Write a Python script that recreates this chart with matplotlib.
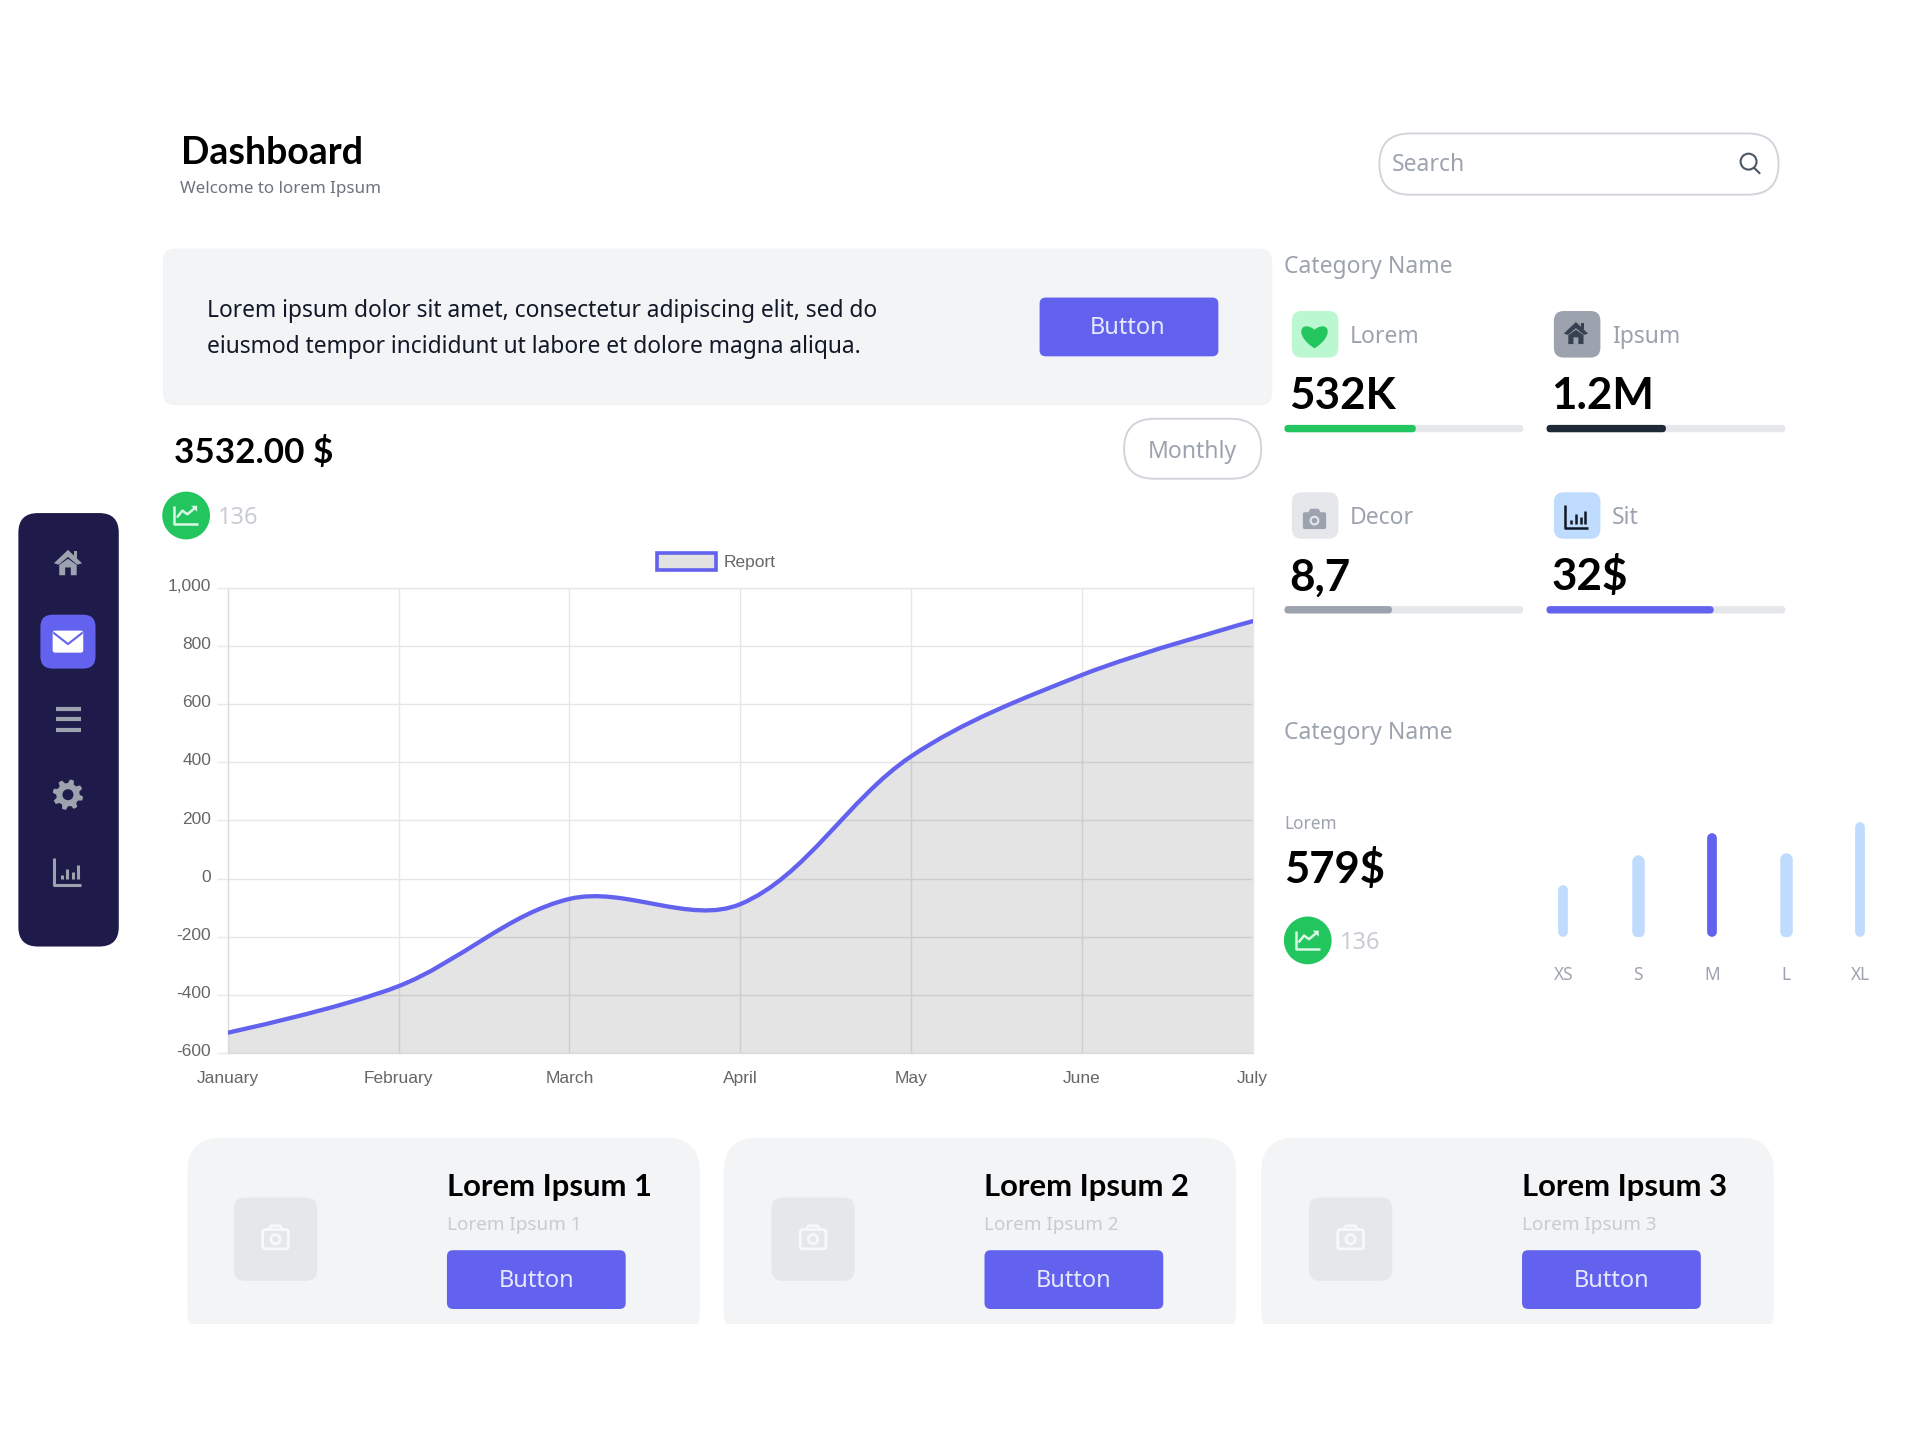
import numpy as np
import matplotlib
matplotlib.use('Agg')
import matplotlib.pyplot as plt
from matplotlib.patches import Circle, FancyBboxPatch, Patch, PathPatch, Polygon, Rectangle
from matplotlib.path import Path
from matplotlib.transforms import ScaledTranslation

plt.rcParams['font.family'] = ['Noto Sans', 'DejaVu Sans']
BOLD_FONT = ['Lato', 'DejaVu Sans']

# line chart
MONTHS = ['January', 'February', 'March', 'April', 'May', 'June', 'July']
REPORT = [-530, -370, -70, -88, 420, 700, 885]
Y_TICKS = [-600, -400, -200, 0, 200, 400, 600, 800, 1000]

# stat blocks
STAT_LABELS = ['Lorem', 'Ipsum', 'Decor', 'Sit']
STAT_VALUES = ['532K', '1.2M', '8,7', '32$']
STAT_PROGRESS = [55, 50, 45, 70]

# small bars
SIZES = ['XS', 'S', 'M', 'L', 'XL']
SIZE_VALUES = [42, 66, 84, 68, 93]

CARD_TITLES = ['Lorem Ipsum 1', 'Lorem Ipsum 2', 'Lorem Ipsum 3']

INDIGO = '#6262ee'
GREEN = '#22c55e'
NAVY = '#1e1b4b'
LIGHT = '#f3f4f6'
GRAY = '#9ca3af'
W, H = 1568.0, 1176.0  # layout units of the page

fig = plt.figure(figsize=(19.2, 14.4), dpi=100, facecolor='white')
page = fig.add_axes([0, 0, 1, 1])
page.set_xlim(0, W)
page.set_ylim(H, 0)
page.axis('off')


def rect_of(x0, y0, x1, y1):
    return [x0 / W, 1 - y1 / H, (x1 - x0) / W, (y1 - y0) / H]


def box(x0, y0, x1, y1, r, fc, ec='none', lw=0, z=1):
    p = FancyBboxPatch((x0, y0), x1 - x0, y1 - y0, boxstyle='round,pad=0,rounding_size=%g' % r,
                       fc=fc, ec=ec, lw=lw, zorder=z)
    page.add_patch(p)
    return p


def label(x, y, s, size, color, weight='normal', ha='left', va='center'):
    if va == 'center':
        y += 2  # center includes descender room, nudge to the reference
    family = BOLD_FONT if weight == 'bold' else None
    page.text(x, y, s, fontsize=size, color=color, fontweight=weight, ha=ha, va=va, zorder=5, family=family)


def line(xs, ys, color, lw, z=4, cap='round'):
    page.plot(xs, ys, color=color, lw=lw, solid_capstyle=cap, solid_joinstyle='round', zorder=z)


def icon_home(cx, cy, s, color, bg):
    page.add_patch(Polygon([(cx - s, cy), (cx, cy - s * 0.95), (cx + s, cy), (cx + s * 0.65, cy + s * 0.1),
                            (cx, cy - s * 0.45), (cx - s * 0.65, cy + s * 0.1)], fc=color, zorder=4))
    page.add_patch(Polygon([(cx - s * 0.62, cy + s * 0.12), (cx, cy - s * 0.32), (cx + s * 0.62, cy + s * 0.12),
                            (cx + s * 0.62, cy + s * 0.85), (cx + s * 0.2, cy + s * 0.85), (cx + s * 0.2, cy + s * 0.3),
                            (cx - s * 0.2, cy + s * 0.3), (cx - s * 0.2, cy + s * 0.85),
                            (cx - s * 0.62, cy + s * 0.85)], fc=color, zorder=4))
    page.add_patch(Rectangle((cx + s * 0.42, cy - s * 0.85), s * 0.22, s * 0.5, fc=color, zorder=4))


def icon_gear(cx, cy, r, color, bg):
    ang = np.linspace(0, 2 * np.pi, 48, endpoint=False) + np.pi / 24
    rad = np.where(np.arange(48) % 6 < 3, r, r * 0.76)
    page.add_patch(Polygon(np.c_[cx + rad * np.cos(ang), cy + rad * np.sin(ang)], fc=color, zorder=4))
    page.add_patch(Circle((cx, cy), r * 0.36, fc=bg, zorder=4.5))


def icon_bars(cx, cy, s, color, lw=2.2):
    line([cx - s, cx - s, cx + s], [cy - s, cy + s, cy + s], color, lw, cap='butt')
    for dx, h in zip([-0.45, -0.05, 0.35, 0.75], [0.35, 0.8, 0.55, 1.05]):
        line([cx + dx * s] * 2, [cy + s * 0.6, cy + s * 0.6 - h * s], color, lw, cap='butt')


def icon_camera(cx, cy, s, color, bg, outline=False):
    if outline:
        box(cx - s, cy - s * 0.65, cx + s, cy + s * 0.85, 2, 'none', ec=color, lw=2, z=4)
        line([cx - s * 0.55, cx - s * 0.35, cx + s * 0.35, cx + s * 0.55],
             [cy - s * 0.65, cy - s * 0.95, cy - s * 0.95, cy - s * 0.65], color, 2)
        page.add_patch(Circle((cx, cy + s * 0.1), s * 0.36, fc='none', ec=color, lw=2, zorder=4))
    else:
        box(cx - s, cy - s * 0.6, cx + s, cy + s * 0.85, 1.5, color, z=4)
        page.add_patch(Polygon([(cx - s * 0.55, cy - s * 0.55), (cx - s * 0.35, cy - s * 0.9),
                                (cx + s * 0.35, cy - s * 0.9), (cx + s * 0.55, cy - s * 0.55)], fc=color, zorder=4))
        page.add_patch(Circle((cx, cy + s * 0.12), s * 0.42, fc=bg, zorder=4.5))
        page.add_patch(Circle((cx, cy + s * 0.12), s * 0.24, fc=color, zorder=4.6))


def icon_heart(cx, cy, s, color):
    verts = [(cx, cy + s), (cx - s * 1.7, cy - s * 0.1), (cx - s * 1.0, cy - s * 1.25), (cx, cy - s * 0.45),
             (cx + s * 1.0, cy - s * 1.25), (cx + s * 1.7, cy - s * 0.1), (cx, cy + s)]
    codes = [Path.MOVETO] + [Path.CURVE4] * 6
    page.add_patch(PathPatch(Path(verts, codes), fc=color, ec='none', zorder=4))


def trend_badge(cx, cy, value, tx):
    page.add_patch(Circle((cx, cy), 19.5, fc=GREEN, zorder=3))
    line([cx - 10, cx - 10, cx + 10], [cy - 8, cy + 7, cy + 7], '#d9f7e4', 1.8, cap='butt')
    line([cx - 7, cx - 3, cx + 1, cx + 7], [cy + 1, cy - 4, cy - 1, cy - 6], '#d9f7e4', 1.8)
    page.add_patch(Polygon([(cx + 9, cy - 8), (cx + 9, cy - 3), (cx + 4, cy - 8)], fc='#d9f7e4', zorder=4))
    label(tx, cy, value, 17, '#c9ccd3')


# sidebar
box(15, 419, 97, 773, 16, NAVY)
icon_home(55.5, 460, 11.5, GRAY, NAVY)
box(33, 502, 78, 546, 10, INDIGO)
box(43, 515, 68, 533, 2, 'white', z=4)
line([44, 55.5, 67], [517, 526, 517], INDIGO, 1.5)
for y in [579, 587.5, 596]:
    line([46, 66], [y, y], GRAY, 3, cap='butt')
icon_gear(55.5, 649, 12.5, GRAY, NAVY)
icon_bars(55.5, 711.5, 11, GRAY, lw=2.2)

# header
label(147.5, 134, 'Dashboard', 27, 'black', 'bold', va='baseline')
label(147, 158, 'Welcome to lorem Ipsum', 12.2, '#6b7280', va='baseline')
box(1126.5, 109, 1452.5, 159, 25, 'white', ec='#d1d5db', lw=1.4)
label(1137, 132.5, 'Search', 16.5, GRAY)
page.add_patch(Circle((1428, 132), 6.5, fc='none', ec='#4b5563', lw=1.5, zorder=4))
line([1432.5, 1437], [137, 141.5], '#4b5563', 1.5)

# banner
box(133, 203, 1039, 331, 10, LIGHT)
label(169, 252, 'Lorem ipsum dolor sit amet, consectetur adipiscing elit, sed do', 16.4, '#111827')
label(169, 281, 'eiusmod tempor incididunt ut labore et dolore magna aliqua.', 16.4, '#111827')
box(849, 243, 995, 291, 5, INDIGO)
label(921, 266, 'Button', 17, '#e6e8ff', ha='center')

# chart header
label(142, 378, '3532.00 $', 25.2, 'black', 'bold', va='baseline')
box(918, 342, 1030, 391, 24.5, 'white', ec='#d1d5db', lw=1.4)
label(974, 367, 'Monthly', 16.5, GRAY, ha='center')
trend_badge(152, 421, '136', 178)

# line chart on its own axes
ax = fig.add_axes(rect_of(186, 480, 1023, 860))
ax.patch.set_alpha(0)
ax.set_xlim(0, len(MONTHS) - 1)
ax.set_ylim(-600, 1000)
ax.set_xticks(range(len(MONTHS)))
ax.set_xticklabels(MONTHS)
ax.set_yticks(Y_TICKS)
ax.set_yticklabels(['{:,}'.format(v) for v in Y_TICKS])
for t in ax.get_xticklabels() + ax.get_yticklabels():
    t.set_fontfamily(['Liberation Sans', 'DejaVu Sans'])
ax.tick_params(axis='y', length=8, width=1, color='#e9e9e9', labelsize=12.5, labelcolor='#666666', pad=4)
ax.tick_params(axis='x', length=0, labelsize=12.5, labelcolor='#666666', pad=13)
# tick labels sit a little above their grid lines in the reference
up = ScaledTranslation(0, 2.0 / 72, fig.dpi_scale_trans)
for t in ax.get_yticklabels():
    t.set_transform(t.get_transform() + up)
ax.grid(True, color='#e6e6e6', lw=1, zorder=0)
ax.set_axisbelow(True)
for side, sp in ax.spines.items():
    sp.set_color('#dcdcdc' if side in ('left', 'bottom') else '#e6e6e6')
    sp.set_linewidth(1)

# chart.js style bezier through the monthly values, in screen space
TENSION = 0.34
xs = np.arange(len(REPORT), dtype=float)
ys = np.array(REPORT, dtype=float)
sx, sy = 837.0 / 6, 380.0 / 1600
verts = [(xs[0], ys[0])]
codes = [Path.MOVETO]
out_ctrl = np.array([xs[0], ys[0]])
for i in range(1, len(xs)):
    cur = np.array([xs[i], ys[i]])
    if i < len(xs) - 1:
        prev = np.array([xs[i - 1], ys[i - 1]])
        nxt = np.array([xs[i + 1], ys[i + 1]])
        d01 = np.hypot((cur[0] - prev[0]) * sx, (cur[1] - prev[1]) * sy)
        d12 = np.hypot((nxt[0] - cur[0]) * sx, (nxt[1] - cur[1]) * sy)
        fa = TENSION * d01 / (d01 + d12)
        fb = TENSION * d12 / (d01 + d12)
        in_ctrl = cur - fa * (nxt - prev)
        next_out = cur + fb * (nxt - prev)
    else:
        in_ctrl = cur
        next_out = cur
    verts += [tuple(out_ctrl), tuple(in_ctrl), tuple(cur)]
    codes += [Path.CURVE4] * 3
    out_ctrl = next_out
area_verts = verts + [(xs[-1], -600), (xs[0], -600), (xs[0], ys[0])]
area_codes = codes + [Path.LINETO, Path.LINETO, Path.LINETO]
ax.add_patch(PathPatch(Path(area_verts, area_codes), fc='black', alpha=0.105, ec='none', zorder=2))
ax.add_patch(PathPatch(Path(verts, codes), fc='none', ec=INDIGO, lw=3.1, zorder=3, capstyle='round'))
leg = ax.legend(handles=[Patch(fc='#e2e2e2', ec=INDIGO, lw=2.6, label='Report')], loc='lower center',
                bbox_to_anchor=(0.4768, 1.0), frameon=False, ncol=1, handlelength=3.4, handleheight=1.1,
                handletextpad=0.45, borderaxespad=0.6, prop={'family': 'Liberation Sans', 'size': 12.5},
                labelcolor='#666666')

# stat blocks
stat_x = [1049, 1263]
stat_y = [273, 421]
stat_tile = ['#bbf7d0', GRAY, '#e5e7eb', '#bfdbfe']
stat_fill = [GREEN, '#1f2937', GRAY, INDIGO]
label(1049, 216, 'Category Name', 16.5, GRAY)
for i, name in enumerate(STAT_LABELS):
    x = stat_x[i % 2]
    y = stat_y[i // 2]
    box(x + 6, y - 19, x + 44, y + 19, 8, stat_tile[i])
    label(x + 53.5, y, name, 16.5, GRAY)
    label(x + 4, y + 61, STAT_VALUES[i], 31.7, 'black', 'bold', va='baseline')
    box(x, y + 74, x + 195, y + 80, 3, '#e5e7eb')
    box(x, y + 74, x + 195 * STAT_PROGRESS[i] / 100.0, y + 80, 3, stat_fill[i], z=2)
icon_heart(1073.5, 274, 10.5, GREEN)
icon_home(1287, 272.5, 10, '#374151', GRAY)
icon_camera(1073.5, 424, 9.5, GRAY, '#e5e7eb')
icon_bars(1287.5, 422, 9.5, '#111827', lw=1.8)

# lower right block
label(1049, 597, 'Category Name', 16.5, GRAY)
label(1049, 671, 'Lorem', 12.4, GRAY)
label(1049, 721, '579$', 31.4, 'black', 'bold', va='baseline')
trend_badge(1068, 768, '136', 1094)

bar_ax = fig.add_axes(rect_of(1247, 665, 1549, 765))
bar_ax.patch.set_alpha(0)
bar_ax.set_xlim(-0.49, 4.49)
bar_ax.set_ylim(0, 100)
bar_colors = ['#bfdbfe', '#bfdbfe', INDIGO, '#bfdbfe', '#bfdbfe']
bar_widths = [7.0, 9.0, 7.0, 9.0, 7.0]
for i, v in enumerate(SIZE_VALUES):
    bar_ax.vlines(i, bar_widths[i] / 2, v - bar_widths[i] / 2, color=bar_colors[i], lw=bar_widths[i],
                  capstyle='round')
bar_ax.set_xticks(range(len(SIZES)))
bar_ax.set_xticklabels(SIZES)
bar_ax.set_yticks([])
bar_ax.tick_params(axis='x', length=0, labelsize=12.5, labelcolor=GRAY, pad=21)
for sp in bar_ax.spines.values():
    sp.set_visible(False)

# bottom cards, cut off at the lower edge
card_x = [153, 591, 1030]
thumb_x = [191, 630, 1069]
text_x = [365, 804, 1243]
for i, title in enumerate(CARD_TITLES):
    card = box(card_x[i], 929, card_x[i] + 418.5, 1098, 28, LIGHT)
    clip = Rectangle((0, 0), W, 1081.5, transform=page.transData)
    card.set_clip_path(clip)
    box(thumb_x[i], 978, thumb_x[i] + 68, 1046, 9, '#e5e7eb', z=2)
    icon_camera(thumb_x[i] + 34, 1011, 10.5, '#f7f8fa', '#e5e7eb', outline=True)
    label(text_x[i], 977, title, 22.3, 'black', 'bold', va='baseline')
    label(text_x[i], 998.5, title, 13.6, '#c8cbd2')
    box(text_x[i], 1021, text_x[i] + 146, 1069, 5, INDIGO, z=2)
    label(text_x[i] + 73, 1044, 'Button', 17, '#e6e8ff', ha='center')

fig.savefig('out.png', dpi=100, facecolor='white')
